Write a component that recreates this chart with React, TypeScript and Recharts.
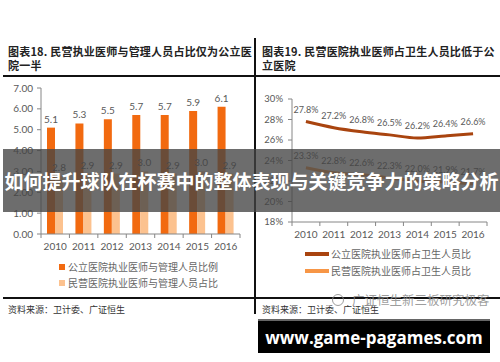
import { BarChart, Bar, LineChart, Line, XAxis, YAxis, LabelList } from 'recharts';

const years = ['2010', '2011', '2012', '2013', '2014', '2015', '2016'];

// 执业医师与管理人员比例
const publicRatio = [5.1, 5.3, 5.5, 5.7, 5.7, 5.9, 6.1];
const privateRatio = [2.8, 2.9, 2.9, 3.0, 2.9, 3.0, 2.9];

// 执业医师占卫生人员比 (%)
const publicShare = [27.8, 27.2, 26.8, 26.5, 26.2, 26.4, 26.6];
const privateShare = [23.3, 22.8, 22.6, 22.3, 22.0, 21.9, 21.7];

const ratioTicks = [0, 1, 2, 3, 4, 5, 6, 7];
const shareTicks = [18, 20, 22, 24, 26, 28, 30];

const ratioData = years.map((year, i) => ({ year, pub: publicRatio[i], pri: privateRatio[i] }));
const shareData = years.map((year, i) => ({ year, pub: publicShare[i], pri: privateShare[i] }));

const AXIS = '#868686';
const TEXT = '#595959';
const NUM_FONT = 'Lato, "Open Sans", sans-serif';
const CJK = '"Noto Sans CJK SC", sans-serif';

const DARK_ORANGE = '#f26a10';
const LIGHT_ORANGE = '#fcc28f';
const BROWN = '#a9440f';
const ORANGE = '#f79646';

// x tick with marks on the category boundaries, label in the middle
function bandTick(band: number, axisY: number, count: number) {
  return (props: any) => {
    const { x, payload, index } = props;
    return (
      <g>
        <line x1={x - band / 2} x2={x - band / 2} y1={axisY} y2={axisY + 4} stroke={AXIS} />
        {index === count - 1 && (
          <line x1={x + band / 2} x2={x + band / 2} y1={axisY} y2={axisY + 4} stroke={AXIS} />
        )}
        <text x={x} y={axisY + 12} textAnchor="middle" dominantBaseline="central" fill={TEXT} fontSize={10} fontFamily={NUM_FONT}>
          {payload.value}
        </text>
      </g>
    );
  };
}

function RatioChart() {
  const width = 248;
  const height = 176;
  const margin = { top: 10, right: 8, bottom: 0, left: 0 };
  const yWidth = 41;
  const band = (width - yWidth - margin.right) / years.length;
  const axisY = height - 20;
  return (
    <BarChart width={width} height={height} data={ratioData} margin={margin} barSize={8} barGap={0}>
      <XAxis
        dataKey="year"
        height={20}
        axisLine={{ stroke: AXIS }}
        tickLine={false}
        interval={0}
        tick={bandTick(band, axisY, years.length)}
      />
      <YAxis
        width={yWidth}
        domain={[0, 7]}
        ticks={ratioTicks}
        tickFormatter={(v: number) => v.toFixed(2)}
        axisLine={{ stroke: AXIS }}
        tickLine={{ stroke: AXIS }}
        tickSize={4}
        tickMargin={4}
        tick={{ fill: TEXT, fontSize: 10, fontFamily: NUM_FONT }}
      />
      <Bar dataKey="pub" fill={DARK_ORANGE} isAnimationActive={false}>
        <LabelList dataKey="pub" position="top" offset={5} formatter={(v: any) => Number(v).toFixed(1)} fill={TEXT} fontSize={10} fontFamily={NUM_FONT} />
      </Bar>
      <Bar dataKey="pri" fill={LIGHT_ORANGE} isAnimationActive={false}>
        <LabelList dataKey="pri" position="top" offset={5} formatter={(v: any) => Number(v).toFixed(1)} fill={TEXT} fontSize={10} fontFamily={NUM_FONT} />
      </Bar>
    </BarChart>
  );
}

function ShareChart() {
  const width = 250;
  const height = 153;
  const margin = { top: 10, right: 13, bottom: 0, left: 0 };
  const yWidth = 42;
  const band = (width - yWidth - margin.right) / years.length;
  const axisY = height - 20;
  const pct = (v: any) => `${Number(v).toFixed(1)}%`;
  return (
    <LineChart width={width} height={height} data={shareData} margin={margin}>
      <XAxis
        dataKey="year"
        height={20}
        padding={{ left: band / 2, right: band / 2 }}
        axisLine={{ stroke: AXIS }}
        tickLine={false}
        interval={0}
        tick={bandTick(band, axisY, years.length)}
      />
      <YAxis
        width={yWidth}
        domain={[18, 30]}
        ticks={shareTicks}
        tickFormatter={(v: number) => `${v}%`}
        axisLine={{ stroke: AXIS }}
        tickLine={{ stroke: AXIS }}
        tickSize={4}
        tickMargin={5}
        tick={{ fill: TEXT, fontSize: 9.5, fontFamily: NUM_FONT }}
      />
      <Line type="monotone" dataKey="pub" stroke={BROWN} strokeWidth={3} dot={false} isAnimationActive={false}>
        <LabelList dataKey="pub" position="top" offset={9} formatter={pct} fill={TEXT} fontSize={9} fontFamily={NUM_FONT} />
      </Line>
      <Line type="monotone" dataKey="pri" stroke={ORANGE} strokeWidth={3} dot={false} isAnimationActive={false}>
        <LabelList dataKey="pri" position="top" offset={9} formatter={pct} fill={TEXT} fontSize={9} fontFamily={NUM_FONT} />
      </Line>
    </LineChart>
  );
}

const abs = (left: number, top: number, extra: React.CSSProperties = {}): React.CSSProperties => ({
  position: 'absolute',
  left,
  top,
  ...extra,
});

const titleStyle: React.CSSProperties = {
  fontFamily: CJK,
  fontSize: 11,
  fontWeight: 700,
  color: '#222',
  lineHeight: '14px',
  whiteSpace: 'nowrap',
  letterSpacing: 0.2,
};

const sourceStyle: React.CSSProperties = {
  fontFamily: CJK,
  fontSize: 9,
  color: '#333',
  whiteSpace: 'nowrap',
  lineHeight: '12px',
};

const legendText: React.CSSProperties = {
  fontFamily: CJK,
  fontSize: 10,
  color: '#666',
  whiteSpace: 'nowrap',
  lineHeight: '12px',
};

export default function App() {
  return (
    <div style={{ position: 'absolute', left: 0, top: 0, width: 500, height: 362, background: '#fff', overflow: 'hidden' }}>
      {/* left panel */}
      <div style={abs(8, 44, titleStyle)}>
        图表18. 民营执业医师与管理人员占比仅为公立医
        <br />
        院一半
      </div>
      <div style={abs(3, 75, { width: 497, height: 2, background: '#111' })} />
      <div style={abs(0, 78)}>
        <RatioChart />
      </div>
      <div style={abs(59, 261, { display: 'flex', alignItems: 'center' })}>
        <span style={{ width: 6, height: 6, background: DARK_ORANGE, marginRight: 3 }} />
        <span style={legendText}>公立医院执业医师与管理人员比例</span>
      </div>
      <div style={abs(59, 277, { display: 'flex', alignItems: 'center' })}>
        <span style={{ width: 6, height: 6, background: LIGHT_ORANGE, marginRight: 3 }} />
        <span style={legendText}>民营医院执业医师与管理人员占比</span>
      </div>
      <div style={abs(3, 297, { width: 252, height: 2, background: '#111' })} />
      <div style={abs(8, 304, sourceStyle)}>资料来源：卫计委、广证恒生</div>

      {/* right panel */}
      <div style={abs(254, 38, { width: 2, height: 276, background: '#111' })} />
      <div style={abs(262, 44, titleStyle)}>
        图表19. 民营医院执业医师占卫生人员比低于公
        <br />
        立医院
      </div>
      <div style={abs(250, 89)}>
        <ShareChart />
      </div>
      <div style={abs(305, 248, { display: 'flex', alignItems: 'center' })}>
        <span style={{ width: 24, height: 4, background: BROWN, marginRight: 2 }} />
        <span style={legendText}>公立医院执业医师占卫生人员比</span>
      </div>
      <div style={abs(305, 265, { display: 'flex', alignItems: 'center' })}>
        <span style={{ width: 24, height: 4, background: ORANGE, marginRight: 2 }} />
        <span style={legendText}>民营医院执业医师占卫生人员比</span>
      </div>
      <div style={abs(255, 297, { width: 245, height: 2, background: '#111' })} />
      <div style={abs(262, 304, sourceStyle)}>资料来源：卫计委、广证恒生</div>
      <div style={abs(332, 290, { display: 'flex', alignItems: 'center', color: 'rgba(140,140,140,0.85)', fontFamily: CJK, fontSize: 12.5, whiteSpace: 'nowrap' })}>
        <span style={{ width: 10, height: 10, borderRadius: 6, border: '1.5px solid rgba(140,140,140,0.85)', marginRight: 8 }} />
        广证恒生新三板研究极客
      </div>

      {/* headline band */}
      <div
        style={abs(3, 149, {
          width: 497,
          height: 63,
          background: 'rgba(68,68,68,0.78)',
          display: 'flex',
          alignItems: 'center',
          justifyContent: 'center',
          color: '#fff',
          fontFamily: CJK,
          fontWeight: 700,
          fontSize: 19,
          whiteSpace: 'nowrap',
        })}
      >
        如何提升球队在杯赛中的整体表现与关键竞争力的策略分析
      </div>

      {/* site badge */}
      <div
        style={abs(258, 319, {
          width: 232,
          height: 34,
          background: '#000',
          borderTop: '2px solid #666',
          boxSizing: 'border-box',
          display: 'flex',
          alignItems: 'center',
          justifyContent: 'center',
          color: '#fff',
          fontFamily: '"Open Sans", "DejaVu Sans", sans-serif',
          fontWeight: 700,
          fontSize: 17,
          whiteSpace: 'nowrap',
        })}
      >
        www.game-pagames.com
      </div>
    </div>
  );
}
